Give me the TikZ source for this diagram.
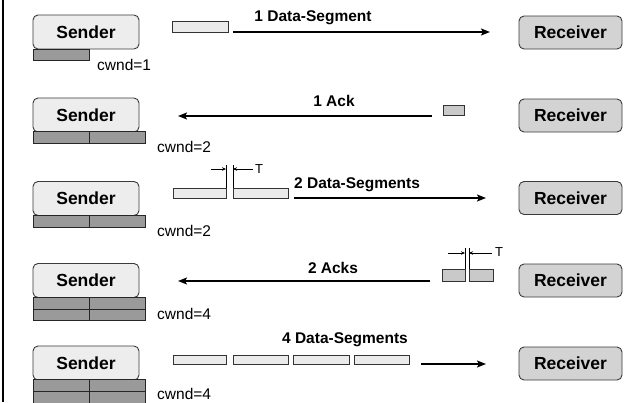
\documentclass[tikz,border=0pt]{standalone}
\usepackage{fontspec}
\setmainfont{Liberation Sans}
\usetikzlibrary{arrows.meta}
\definecolor{sendfill}{HTML}{EDEDED}
\definecolor{recvfill}{HTML}{D3D3D3}
\definecolor{winfill}{HTML}{9A9A9A}
\definecolor{segfill}{HTML}{EBEBEB}
\definecolor{ackfill}{HTML}{C9C9C9}
\definecolor{edge}{HTML}{3A3A3A}
\begin{document}
\begin{tikzpicture}[x=1pt,y=-1pt,
  sendbox/.style={draw=edge,line width=0.9pt,fill=sendfill,rounded corners=5pt,minimum width=106pt,minimum height=34pt,inner sep=0pt,font=\fontsize{17.5}{20}\selectfont\bfseries},
  recvbox/.style={draw=edge,line width=0.9pt,fill=recvfill,rounded corners=5pt,minimum width=103pt,minimum height=33pt,inner sep=0pt,font=\fontsize{17.5}{20}\selectfont\bfseries},
  winbar/.style={draw=black!85,line width=0.8pt,fill=winfill},
  segbox/.style={draw=black!80,line width=0.7pt,fill=segfill},
  ackbox/.style={draw=black!80,line width=0.7pt,fill=ackfill},
  bigarrow/.style={line width=2.2pt,-{Stealth[length=9pt,width=7pt,inset=2pt]}},
  tickarrow/.style={line width=0.6pt,-{Stealth[length=4pt,width=3.5pt]}},
  tickline/.style={line width=0.6pt},
  lbl/.style={inner sep=0pt,font=\fontsize{15.5}{18}\selectfont\bfseries},
  cwnd/.style={inner sep=0pt,anchor=west,font=\fontsize{15.5}{18}\selectfont},
  tlbl/.style={inner sep=0pt,anchor=west,font=\fontsize{13}{15}\selectfont}]
\useasboundingbox (0,0) rectangle (624,402);
\draw[line width=1.2pt] (3,0) -- (3,402);

% ---------- Row 1 ----------
\node[sendbox] (s1) at (86,32) {Sender};
\node[recvbox] (r1) at (570.5,32.5) {Receiver};
\draw[winbar] (33,49) rectangle (89,60);
\node[cwnd] (c1) at (97,65) {cwnd=1};
\draw[segbox] (172,21) rectangle (228,32);
\coordinate (a1s) at (233,32); \coordinate (a1e) at (490,32);
\draw[bigarrow] (a1s) -- (a1e);
\node[lbl] (l1) at (313,18) {1 Data-Segment};

% ---------- Row 2 ----------
\node[sendbox] (s2) at (86,115) {Sender};
\node[recvbox] (r2) at (570.5,115.5) {Receiver};
\draw[winbar] (33,131) rectangle (89,143);
\draw[winbar] (89,131) rectangle (145,143);
\node[cwnd] (c2) at (157,147) {cwnd=2};
\draw[ackbox] (443,105) rectangle (464,115);
\coordinate (a2s) at (432,116); \coordinate (a2e) at (178,116);
\draw[bigarrow] (a2s) -- (a2e);
\node[lbl] (l2) at (334,101) {1 Ack};

% ---------- Row 3 ----------
\node[sendbox] (s3) at (86,198.5) {Sender};
\node[recvbox] (r3) at (570.5,198) {Receiver};
\draw[winbar] (33,215) rectangle (89,227);
\draw[winbar] (89,215) rectangle (145,227);
\node[cwnd] (c3) at (157,231) {cwnd=2};
\draw[segbox] (173,188) rectangle (226,198);
\draw[segbox] (233,188) rectangle (288,198);
\draw[tickline] (226,188) -- (226,165);
\draw[tickline] (233,188) -- (233,165);
\coordinate (t3a) at (211,169); \coordinate (t3b) at (226,169);
\coordinate (t3c) at (253,169); \coordinate (t3d) at (233,169);
\draw[tickarrow] (t3a) -- (t3b);
\draw[tickarrow] (t3c) -- (t3d);
\node[tlbl] (T3) at (255,169) {T};
\coordinate (a3s) at (294,198); \coordinate (a3e) at (486,198);
\draw[bigarrow] (a3s) -- (a3e);
\node[lbl,anchor=west] (l3) at (294,185) {2 Data-Segments};

% ---------- Row 4 ----------
\node[sendbox] (s4) at (86,280.5) {Sender};
\node[recvbox] (r4) at (570.5,280.5) {Receiver};
\draw[winbar] (33,297) rectangle (89,309);
\draw[winbar] (89,297) rectangle (145,309);
\draw[winbar] (33,309) rectangle (89,320);
\draw[winbar] (89,309) rectangle (145,320);
\node[cwnd] (c4) at (157,314) {cwnd=4};
\draw[ackbox] (442,269) rectangle (465,281);
\draw[ackbox] (469,269) rectangle (493,281);
\draw[tickline] (465,269) -- (465,248);
\draw[tickline] (469,269) -- (469,248);
\coordinate (t4a) at (448,253); \coordinate (t4b) at (465,253);
\coordinate (t4c) at (492,253); \coordinate (t4d) at (469,253);
\draw[tickarrow] (t4a) -- (t4b);
\draw[tickarrow] (t4c) -- (t4d);
\node[tlbl] (T4) at (495,252) {T};
\coordinate (a4s) at (430,281); \coordinate (a4e) at (178,281);
\draw[bigarrow] (a4s) -- (a4e);
\node[lbl] (l4) at (333,268) {2 Acks};

% ---------- Row 5 ----------
\node[sendbox] (s5) at (86,363) {Sender};
\node[recvbox] (r5) at (570.5,363.5) {Receiver};
\draw[winbar] (33,379) rectangle (89,391);
\draw[winbar] (89,379) rectangle (145,391);
\draw[winbar] (33,391) rectangle (89,403);
\draw[winbar] (89,391) rectangle (145,403);
\node[cwnd] (c5) at (157,394) {cwnd=4};
\draw[segbox] (173,355) rectangle (226,364);
\draw[segbox] (233,355) rectangle (288,364);
\draw[segbox] (293,355) rectangle (349,364);
\draw[segbox] (354,355) rectangle (409,364);
\coordinate (a5s) at (421,364); \coordinate (a5e) at (486,364);
\draw[bigarrow] (a5s) -- (a5e);
\node[lbl] (l5) at (345,340) {4 Data-Segments};
\end{tikzpicture}
\end{document}
